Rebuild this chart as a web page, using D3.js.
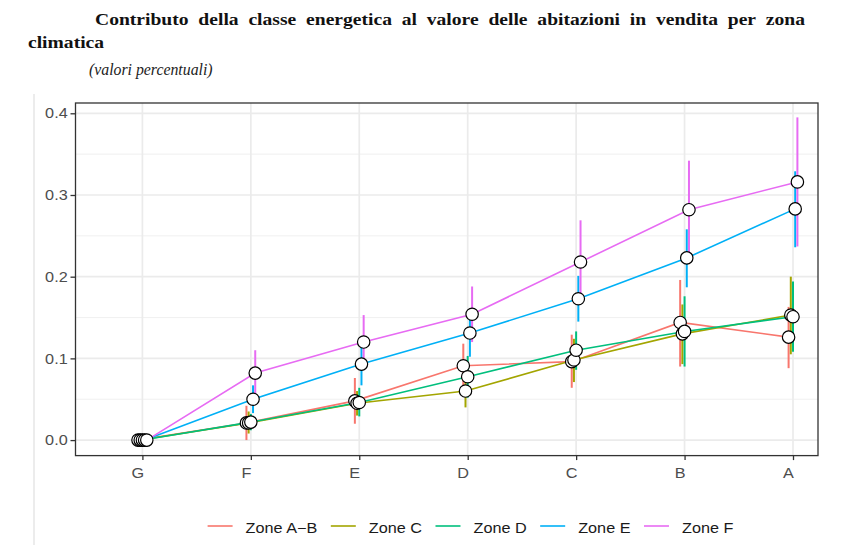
<!DOCTYPE html>
<html>
<head>
<meta charset="utf-8">
<script src="https://cdn.jsdelivr.net/npm/d3@7.9.0/dist/d3.min.js"></script>
<style>
  html, body { margin: 0; padding: 0; background: #fff; }
  svg { display: block; }
</style>
</head>
<body>
<svg id="chart" width="848" height="545"></svg>
<script>
// classes energetiche (asse x) e zone climatiche (serie)
const categories = ['G', 'F', 'E', 'D', 'C', 'B', 'A'];
const zones = ['Zone A\u2212B', 'Zone C', 'Zone D', 'Zone E', 'Zone F'];
const colors = ['#F8766D', '#A3A500', '#00BF7D', '#00B0F6', '#E76BF3'];

// stime e intervalli
const estAB  = [0, 0.021, 0.048, 0.091, 0.096, 0.144, 0.126];
const lowAB  = [0, 0.000, 0.020, 0.063, 0.064, 0.090, 0.088];
const highAB = [0, 0.042, 0.076, 0.118, 0.129, 0.196, 0.163];

const estC  = [0, 0.021, 0.045, 0.060, 0.098, 0.130, 0.153];
const lowC  = [0, 0.008, 0.030, 0.040, 0.071, 0.093, 0.105];
const highC = [0, 0.035, 0.060, 0.080, 0.124, 0.166, 0.200];

const estD  = [0, 0.022, 0.046, 0.0775, 0.110, 0.133, 0.151];
const lowD  = [0, 0.012, 0.029, 0.052, 0.086, 0.090, 0.108];
const highD = [0, 0.032, 0.064, 0.103, 0.133, 0.176, 0.194];

const estE  = [0, 0.050, 0.093, 0.131, 0.173, 0.223, 0.283];
const lowE  = [0, 0.033, 0.067, 0.102, 0.145, 0.187, 0.236];
const highE = [0, 0.067, 0.117, 0.160, 0.201, 0.258, 0.329];

const estF  = [0, 0.082, 0.120, 0.154, 0.218, 0.282, 0.316];
const lowF  = [0, 0.052, 0.088, 0.120, 0.167, 0.222, 0.237];
const highF = [0, 0.110, 0.153, 0.188, 0.269, 0.342, 0.395];

const yTicks = [0, 0.1, 0.2, 0.3, 0.4];
const yMinor = [0.05, 0.15, 0.25, 0.35];

const titleLine1 = 'Contributo della classe energetica al valore delle abitazioni in vendita per zona';
const titleLine2 = 'climatica';
const subtitle = '(valori percentuali)';

const series = [
  { name: zones[0], color: colors[0], est: estAB, low: lowAB, high: highAB },
  { name: zones[1], color: colors[1], est: estC, low: lowC, high: highC },
  { name: zones[2], color: colors[2], est: estD, low: lowD, high: highD },
  { name: zones[3], color: colors[3], est: estE, low: lowE, high: highE },
  { name: zones[4], color: colors[4], est: estF, low: lowF, high: highF }
];

const svg = d3.select('#chart');
const panel = { left: 75.5, right: 818, top: 103, bottom: 455.6 };
const sansFont = '"Liberation Sans", Arial, sans-serif';
const serifFont = '"Liberation Serif", "Times New Roman", serif';
const stretch = 1.12;

let x = d3.scalePoint().domain(categories).range([142.4, 793]);
let dodge = d3.scalePoint().domain(zones).range([-4.4, 4.4]);
let y = d3.scaleLinear().domain([-0.019, 0.4126]).range([panel.bottom, panel.top]);

// linea grigia a sinistra
svg.append('line')
  .attr('x1', 34).attr('x2', 34).attr('y1', 94).attr('y2', 545)
  .attr('stroke', '#ECECEC').attr('stroke-width', 2);

// titolo giustificato
let titleG = svg.append('g')
  .attr('transform', `scale(${stretch},1)`)
  .style('font-family', serifFont)
  .style('font-weight', 'bold')
  .style('font-size', '17.5px')
  .attr('fill', '#111');

let words = titleLine1.split(' ');
let wordNodes = words.map(w => titleG.append('text').attr('y', 25.5).text(w));
let widths = wordNodes.map(n => n.node().getComputedTextLength());
let lineStart = 95 / stretch, lineEnd = 805 / stretch;
let gap = (lineEnd - lineStart - d3.sum(widths)) / (words.length - 1);
let cursor = lineStart;
wordNodes.forEach((n, i) => {
  n.attr('x', cursor);
  cursor += widths[i] + gap;
});
titleG.append('text').attr('x', 28 / stretch).attr('y', 48.5).text(titleLine2);

svg.append('text')
  .attr('transform', 'translate(89,75) scale(0.93,1)')
  .style('font-family', serifFont)
  .style('font-style', 'italic')
  .style('font-size', '17px')
  .attr('fill', '#222')
  .text(subtitle);

// griglia
let grid = svg.append('g');
yMinor.forEach(v => {
  grid.append('line')
    .attr('x1', panel.left).attr('x2', panel.right)
    .attr('y1', y(v)).attr('y2', y(v))
    .attr('stroke', '#EEEEEE').attr('stroke-width', 0.9);
});
yTicks.forEach(v => {
  grid.append('line')
    .attr('x1', panel.left).attr('x2', panel.right)
    .attr('y1', y(v)).attr('y2', y(v))
    .attr('stroke', '#EBEBEB').attr('stroke-width', 1.7);
});
categories.forEach(c => {
  grid.append('line')
    .attr('x1', x(c)).attr('x2', x(c))
    .attr('y1', panel.top).attr('y2', panel.bottom)
    .attr('stroke', '#EBEBEB').attr('stroke-width', 1.7);
});

// barre d'errore
let bars = svg.append('g');
series.forEach(s => {
  categories.forEach((c, i) => {
    if (s.high[i] === s.low[i]) return;
    bars.append('line')
      .attr('x1', x(c) + dodge(s.name)).attr('x2', x(c) + dodge(s.name))
      .attr('y1', y(s.low[i])).attr('y2', y(s.high[i]))
      .attr('stroke', s.color).attr('stroke-width', 2);
  });
});

// linee
let lineGen = d3.line();
series.forEach(s => {
  let pts = categories.map((c, i) => [x(c) + dodge(s.name), y(s.est[i])]);
  svg.append('path')
    .attr('d', lineGen(pts))
    .attr('fill', 'none')
    .attr('stroke', s.color)
    .attr('stroke-width', 1.6);
});

// punti
series.forEach(s => {
  svg.append('g').selectAll('circle')
    .data(s.est)
    .join('circle')
    .attr('cx', (d, i) => x(categories[i]) + dodge(s.name))
    .attr('cy', d => y(d))
    .attr('r', 6.2)
    .attr('fill', '#fff')
    .attr('stroke', '#000')
    .attr('stroke-width', 1.2);
});

// bordo del pannello
svg.append('rect')
  .attr('x', panel.left).attr('y', panel.top)
  .attr('width', panel.right - panel.left).attr('height', panel.bottom - panel.top)
  .attr('fill', 'none').attr('stroke', '#333').attr('stroke-width', 1.3);

// assi
let yAxis = svg.append('g')
  .attr('transform', `translate(${panel.left},0)`)
  .call(d3.axisLeft(y).tickValues(yTicks).tickSize(5).tickPadding(2).tickFormat(d3.format('.1f')));
let xAxis = svg.append('g')
  .attr('transform', `translate(0,${panel.bottom})`)
  .call(d3.axisBottom(x).tickSize(4.5).tickPadding(8));

[yAxis, xAxis].forEach(ax => {
  ax.select('.domain').remove();
  ax.selectAll('.tick line').attr('stroke', '#333').attr('stroke-width', 1.3);
  ax.selectAll('.tick text')
    .style('font-family', sansFont)
    .style('font-size', '14.5px')
    .attr('fill', '#4D4D4D');
});
yAxis.selectAll('.tick text').attr('transform', `scale(${stretch},1)`);
xAxis.selectAll('.tick text').attr('x', -5 / stretch).attr('transform', `scale(${stretch},1)`);

// legenda
let legend = svg.append('g');
let lx = 207.6;
series.forEach(s => {
  legend.append('line')
    .attr('x1', lx).attr('x2', lx + 25)
    .attr('y1', 526).attr('y2', 526)
    .attr('stroke', s.color).attr('stroke-width', 1.6);
  let t = legend.append('text')
    .attr('transform', `translate(${lx + 38},532.5) scale(${stretch},1)`)
    .style('font-family', sansFont)
    .style('font-size', '14.5px')
    .attr('fill', '#1A1A1A')
    .text(s.name);
  lx += 38 + t.node().getComputedTextLength() * stretch + 13.5;
});
</script>
</body>
</html>
